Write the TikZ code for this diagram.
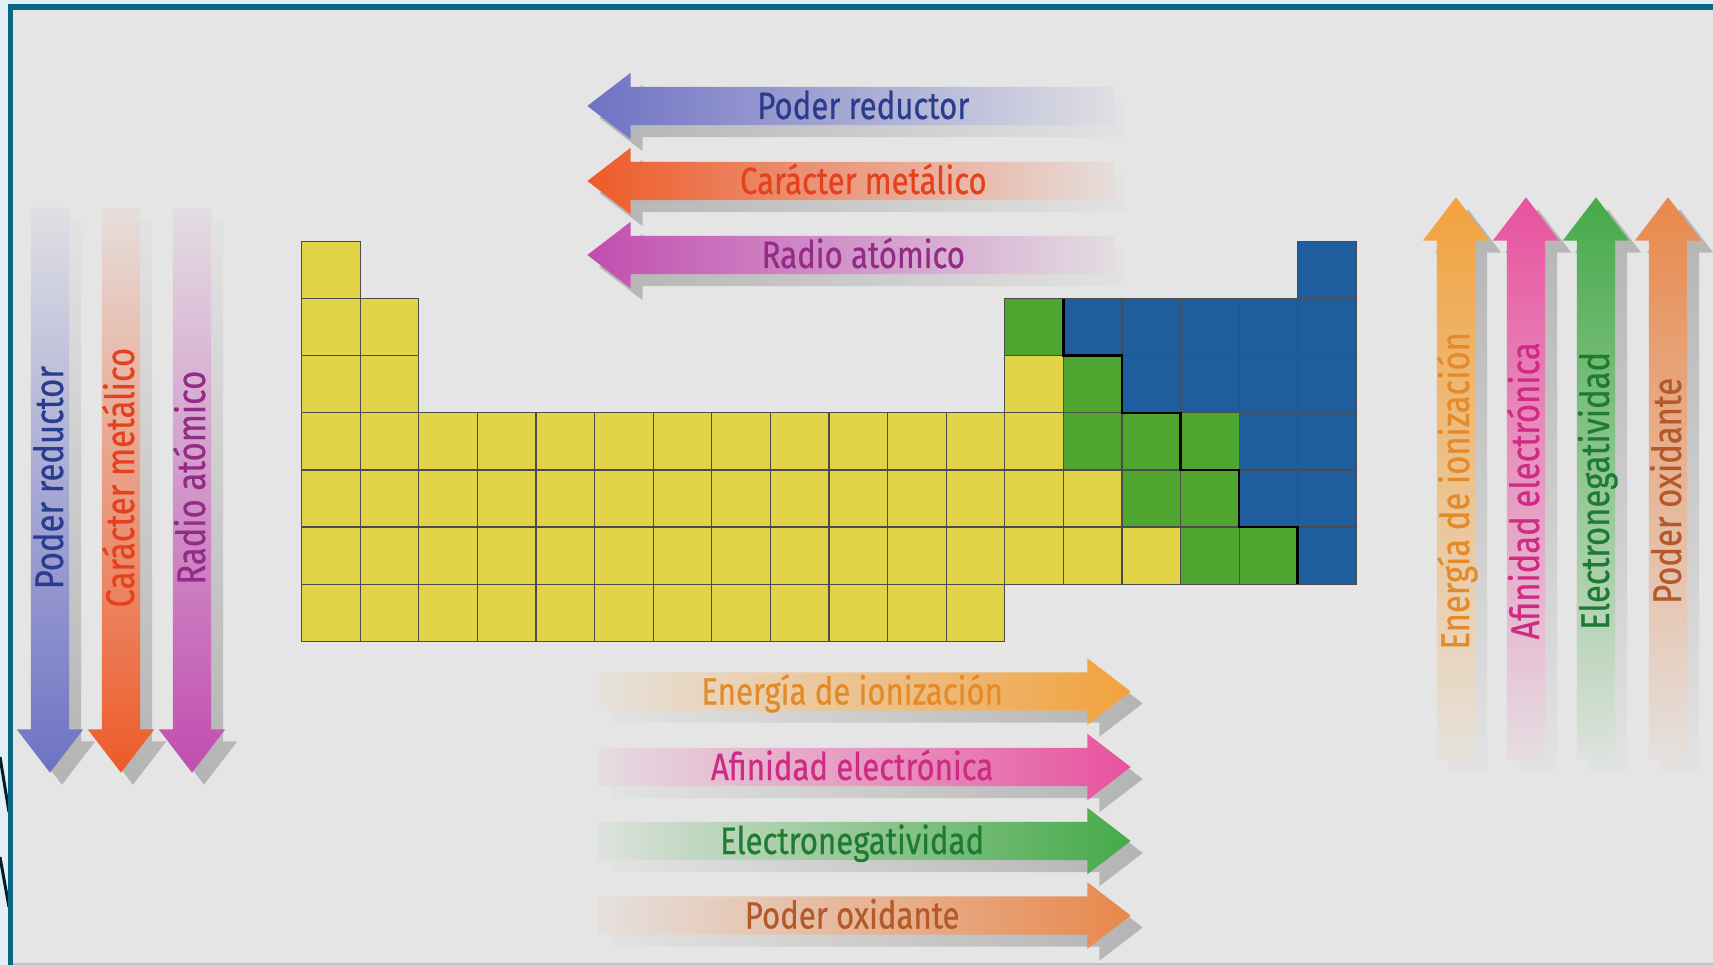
\documentclass[tikz,border=0pt]{standalone}
\usepackage{fontspec}
\newfontfamily\trendfont[FakeStretch=0.82,FakeBold=0.6]{Fira Sans}
\usetikzlibrary{shapes.arrows}

\definecolor{bgc}{HTML}{E5E5E5}
\definecolor{outerc}{HTML}{E2EFF4}
\definecolor{framec}{HTML}{0B6784}
\definecolor{shadowc}{HTML}{B4B4B4}
\definecolor{elyellow}{HTML}{E3D347}
\definecolor{elgreen}{HTML}{4EA52F}
\definecolor{elblue}{HTML}{1F5E9E}
% arrow colours and their label colours
\definecolor{PR}{HTML}{6E72C4}\definecolor{txtPR}{HTML}{2A3C8E}
\definecolor{CM}{HTML}{EE5A28}\definecolor{txtCM}{HTML}{E5411E}
\definecolor{RA}{HTML}{C14DB0}\definecolor{txtRA}{HTML}{932C86}
\definecolor{EI}{HTML}{F2A23C}\definecolor{txtEI}{HTML}{E58A2B}
\definecolor{AE}{HTML}{E8529F}\definecolor{txtAE}{HTML}{CF2A86}
\definecolor{EN}{HTML}{45AA48}\definecolor{txtEN}{HTML}{1E7B32}
\definecolor{PO}{HTML}{E8884C}\definecolor{txtPO}{HTML}{B45A2A}

\begin{document}
\begin{tikzpicture}[x=1pt,y=-1pt,
    trend/.style={single arrow, single arrow tip angle=75, single arrow head extend=14pt,
        inner xsep=0pt, inner ysep=4pt, text height=28pt, text depth=2pt, anchor=tip,
        font=\trendfont\fontsize{38}{38}\selectfont},
    vtrend/.style={trend, rotate=90, font=\trendfont\fontsize{40}{40}\selectfont},
    fadeL/.style={left color=#1, middle color=#1!50!bgc, right color=#1!5!bgc},
    fadeR/.style={right color=#1, middle color=#1!50!bgc, left color=#1!5!bgc},
    fadeD/.style={bottom color=#1, middle color=#1!50!bgc, top color=#1!5!bgc},
    fadeU/.style={top color=#1, middle color=#1!50!bgc, bottom color=#1!5!bgc},
    cell/.style={draw=black!70, line width=1.2pt}]
\useasboundingbox (0,0) rectangle (1713,965);
% frame and background
\fill[outerc] (0,0) rectangle (1713,965);
\draw[black!70!framec, line width=3pt] (0,757) -- (9,812) (0,857) -- (9,907);
\fill[bgc] (10,7) rectangle (1713,963);
\draw[framec!35, line width=2pt] (12,964) -- (1713,964);
\draw[framec, line width=5.5pt] (1730,7) -- (10.5,7) -- (10.5,965);

% periodic table: row / left end / right start / yellow end / green end / blue end
\foreach \rw/\lend/\rstart/\yend/\gend/\bend in {1/1/18/17/17/18, 2/2/13/12/13/18,
    3/2/13/13/14/18, 4/2/3/13/16/18, 5/2/3/14/16/18, 6/2/3/15/17/18, 7/2/3/12/12/12}{
  \foreach \cl in {1,...,\lend}
    \filldraw[cell, fill=elyellow] ({301.5+(\cl-1)*58.6},{241.5+(\rw-1)*57.1}) rectangle ++(58.6,57.1);
  \foreach \cl in {\rstart,...,\bend}{
    \ifnum\cl>\gend \def\k{elblue}\else\ifnum\cl>\yend \def\k{elgreen}\else\def\k{elyellow}\fi\fi
    \filldraw[cell, fill=\k] ({301.5+(\cl-1)*58.6},{241.5+(\rw-1)*57.1}) rectangle ++(58.6,57.1);
  }
}
% staircase line
\draw[black, line width=2.6pt, line join=miter] (1063.3,298.6) -- ++(0,57.1) -- ++(58.6,0) -- ++(0,57.1)
  -- ++(58.6,0) -- ++(0,57.1) -- ++(58.6,0) -- ++(0,57.1) -- ++(58.6,0) -- ++(0,57.1);

% arrows above the table, pointing left
\foreach \nm/\yy/\cc/\txt in {podred/106/PR/Poder reductor, carmet/181/CM/Carácter metálico,
    radat/255/RA/Radio atómico}{
  \node[trend, shape border rotate=180, minimum height=527pt, fadeL=shadowc] at (599,\yy+12) {};
  \node[trend, shape border rotate=180, minimum height=527pt, fadeL=\cc, text=txt\cc] (\nm) at (587,\yy) {\txt};
}
% arrows below the table, pointing right
\foreach \nm/\yy/\cc/\txt in {enion/691.5/EI/Energía de ionización, afel/767/AE/Afinidad electrónica,
    elneg/841/EN/Electronegatividad, podox/915.5/PO/Poder oxidante}{
  \node[trend, minimum height=532pt, fadeR=shadowc] at (1143,\yy+12) {};
  \node[trend, minimum height=532pt, fadeR=\cc, text=txt\cc] (\nm) at (1131,\yy) {\txt};
}
% left arrows, pointing down
\foreach \nm/\xx/\cc/\txt in {podredv/50/PR/Poder reductor, carmetv/121/CM/Carácter metálico,
    radatv/192/RA/Radio atómico}{
  \node[vtrend, shape border rotate=180, minimum height=565pt, fadeD=shadowc] at (\xx+12,785) {};
  \node[vtrend, shape border rotate=180, minimum height=565pt, fadeD=\cc, text=txt\cc] (\nm) at (\xx,773) {\txt};
}
% right arrows, pointing up
\foreach \nm/\xx/\cc/\txt in {enionv/1456/EI/Energía de ionización, afelv/1526/AE/Afinidad electrónica,
    elnegv/1596/EN/Electronegatividad, podoxv/1668/PO/Poder oxidante}{
  \node[vtrend, minimum height=562pt, fadeU=shadowc] at (\xx+12,209) {};
  \node[vtrend, minimum height=562pt, fadeU=\cc, text=txt\cc] (\nm) at (\xx,197) {\txt};
}
\end{tikzpicture}
\end{document}
